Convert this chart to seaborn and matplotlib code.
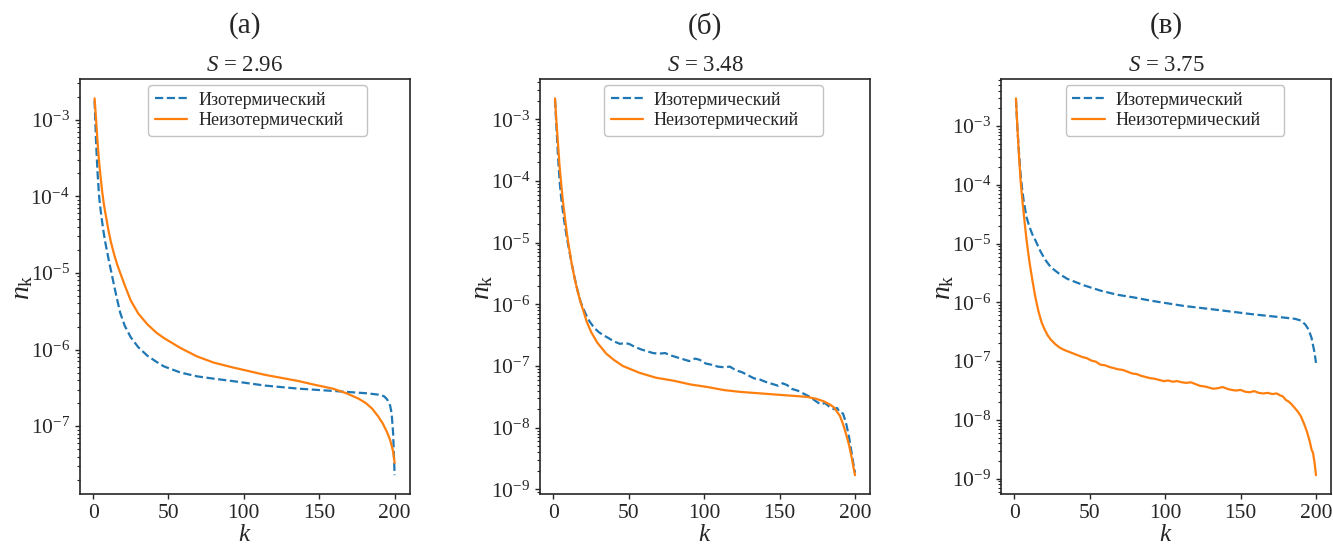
import matplotlib
matplotlib.use("Agg")
import math
import numpy as np
import pandas as pd
import matplotlib.pyplot as plt
import matplotlib.ticker as mticker
import seaborn as sns

# ---- data: cluster size k and log10 of cluster concentration n_k ----
labels_series = ["Изотермический", "Неизотермический"]
panel_tags = ["(а)", "(б)", "(в)"]
supersat = ["2.96", "3.48", "3.75"]

# panel (а), S = 2.96
k_iso_a = [1, 2, 3, 4, 5, 6, 7, 8, 9, 10, 11, 12, 14, 16, 18, 21, 25, 30, 36, 42,
           47, 58, 69, 80, 92, 114, 136, 159, 181, 190, 193, 195, 197, 198, 199, 200]
lg_iso_a = [-2.75, -3.30, -3.70, -4.00, -4.18, -4.33, -4.47, -4.59, -4.69, -4.79,
            -4.89, -4.98, -5.17, -5.35, -5.52, -5.69, -5.84, -5.97, -6.08, -6.16,
            -6.22, -6.30, -6.35, -6.38, -6.41, -6.47, -6.51, -6.54, -6.57, -6.59,
            -6.61, -6.65, -6.73, -6.83, -7.09, -7.64]
k_non_a = [1, 2, 3, 4, 5, 6, 7, 8, 9, 10, 11, 12, 14, 16, 18, 21, 25, 30, 36, 42,
           47, 58, 69, 80, 92, 103, 114, 125, 136, 147, 159, 168, 176, 181, 185,
           189, 192, 195, 197, 199, 200]
lg_non_a = [-2.72, -3.00, -3.30, -3.55, -3.75, -3.93, -4.08, -4.20, -4.31, -4.42,
            -4.52, -4.61, -4.76, -4.89, -5.00, -5.16, -5.36, -5.53, -5.67, -5.78,
            -5.85, -5.98, -6.09, -6.17, -6.23, -6.28, -6.33, -6.37, -6.41, -6.46,
            -6.51, -6.57, -6.64, -6.70, -6.77, -6.87, -6.96, -7.08, -7.18, -7.33,
            -7.48]

# panel (б), S = 3.48
k_iso_b = [1, 2, 3, 4, 5, 6, 7, 8, 9, 10, 12, 14, 16, 18, 20, 22, 24, 27, 30, 33,
           36, 40, 44, 47, 50, 54, 58, 62, 66, 70, 74, 78, 82, 86, 90, 94, 97, 101,
           105, 109, 113, 117, 121, 125, 129, 133, 137, 141, 145, 149, 152, 155,
           158, 162, 166, 170, 174, 177, 180, 183, 186, 188, 190, 192, 194, 196,
           198, 199, 200]
lg_iso_b = [-2.68, -3.15, -3.60, -3.98, -4.25, -4.45, -4.63, -4.79, -4.94, -5.07,
            -5.33, -5.57, -5.78, -5.96, -6.08, -6.19, -6.28, -6.38, -6.45, -6.50,
            -6.54, -6.60, -6.64, -6.63, -6.64, -6.69, -6.73, -6.76, -6.79, -6.80,
            -6.79, -6.83, -6.86, -6.89, -6.92, -6.88, -6.90, -6.96, -6.98, -7.01,
            -7.02, -7.01, -7.07, -7.10, -7.15, -7.20, -7.22, -7.26, -7.29, -7.32,
            -7.28, -7.31, -7.37, -7.40, -7.45, -7.50, -7.57, -7.62, -7.60, -7.66,
            -7.70, -7.68, -7.75, -7.77, -7.92, -8.15, -8.45, -8.60, -8.73]
k_non_b = [1, 2, 3, 4, 5, 6, 7, 8, 9, 10, 12, 14, 16, 18, 20, 22, 25, 29, 35, 40,
           46, 57, 68, 80, 91, 102, 113, 124, 135, 146, 157, 168, 174, 179, 183,
           186, 190, 192, 194, 196, 198, 199, 200]
lg_non_b = [-2.66, -3.05, -3.40, -3.75, -4.02, -4.27, -4.48, -4.68, -4.87, -5.03,
            -5.33, -5.58, -5.79, -5.97, -6.12, -6.28, -6.45, -6.62, -6.80, -6.90,
            -7.00, -7.11, -7.19, -7.24, -7.30, -7.34, -7.39, -7.42, -7.44, -7.46,
            -7.48, -7.50, -7.53, -7.57, -7.62, -7.67, -7.81, -7.94, -8.10, -8.28,
            -8.51, -8.65, -8.77]

# panel (в), S = 3.75
k_iso_c = [1, 2, 3, 4, 5, 6, 8, 10, 12, 14, 17, 20, 24, 30, 35, 46, 57, 68, 80, 90,
           112, 135, 157, 179, 186, 190, 193, 195, 197, 199, 200]
lg_iso_c = [-2.55, -3.05, -3.45, -3.80, -4.05, -4.25, -4.55, -4.72, -4.85, -4.95,
            -5.12, -5.26, -5.40, -5.52, -5.60, -5.71, -5.80, -5.87, -5.92, -5.97,
            -6.06, -6.13, -6.20, -6.26, -6.28, -6.31, -6.38, -6.46, -6.60, -6.85,
            -7.03]
k_non_c = [1, 2, 3, 4, 5, 6, 7, 8, 9, 10, 12, 14, 16, 18, 20, 22, 24, 27, 30, 33,
           36, 39, 42, 45, 48, 51, 54, 57, 60, 63, 66, 69, 72, 75, 78, 81, 84, 87,
           90, 93, 96, 99, 102, 105, 108, 111, 114, 117, 120, 123, 126, 129, 132,
           135, 138, 141, 144, 147, 150, 153, 156, 159, 162, 165, 168, 171, 174,
           176, 178, 180, 182, 184, 186, 188, 190, 192, 194, 196, 197, 198, 199, 200]
lg_non_c = [-2.53, -3.05, -3.50, -3.90, -4.20, -4.45, -4.70, -4.93, -5.13, -5.32,
            -5.64, -5.93, -6.16, -6.34, -6.46, -6.56, -6.63, -6.71, -6.77, -6.81,
            -6.84, -6.87, -6.90, -6.93, -6.95, -6.99, -7.01, -7.06, -7.07, -7.10,
            -7.12, -7.14, -7.15, -7.18, -7.21, -7.22, -7.25, -7.27, -7.29, -7.30,
            -7.32, -7.34, -7.33, -7.35, -7.34, -7.36, -7.37, -7.36, -7.39, -7.42,
            -7.43, -7.45, -7.47, -7.46, -7.44, -7.47, -7.49, -7.50, -7.49, -7.52,
            -7.53, -7.51, -7.54, -7.55, -7.54, -7.56, -7.55, -7.58, -7.60, -7.66,
            -7.69, -7.74, -7.80, -7.86, -7.94, -8.06, -8.20, -8.38, -8.50, -8.56,
            -8.72, -8.94]

panels = [
    (k_iso_a, lg_iso_a, k_non_a, lg_non_a),
    (k_iso_b, lg_iso_b, k_non_b, lg_non_b),
    (k_iso_c, lg_iso_c, k_non_c, lg_non_c),
]

# ---- style ----
sns.set_style("ticks")
plt.rcParams.update({
    "font.family": ["Liberation Serif", "DejaVu Serif"],
    "mathtext.fontset": "custom",
    "mathtext.rm": "Liberation Serif",
    "mathtext.it": "Liberation Serif:italic",
    "mathtext.bf": "Liberation Serif:bold",
    "axes.linewidth": 1.2,
    "axes.edgecolor": "0.15",
    "xtick.major.width": 1.0,
    "ytick.major.width": 1.0,
    "ytick.minor.width": 0.8,
})

c_iso = "#1f77b4"
c_non = "#ff7f0e"

fig = plt.figure(figsize=(13.33, 5.46), dpi=100)
lefts = [0.0597, 0.4051, 0.7509]
bottom, width, height = 0.0952, 0.2476, 0.7592
legend_x0 = [0.208, 0.194, 0.196]
legend_w = 0.662

for i, (k_i, lg_i, k_n, lg_n) in enumerate(panels):
    ax = fig.add_axes([lefts[i], bottom, width, height])
    iso = pd.DataFrame({"k": k_i, "n": 10.0 ** np.asarray(lg_i)})
    non = pd.DataFrame({"k": k_n, "n": 10.0 ** np.asarray(lg_n)})
    sns.lineplot(data=iso, x="k", y="n", color=c_iso, linestyle="--",
                 linewidth=1.6, label=labels_series[0], ax=ax, errorbar=None)
    sns.lineplot(data=non, x="k", y="n", color=c_non, linestyle="-",
                 linewidth=1.6, label=labels_series[1], ax=ax, errorbar=None)
    ax.set_yscale("log")

    # decade ticks restricted to the visible range
    y0, y1 = ax.get_ylim()
    e_lo, e_hi = math.ceil(math.log10(y0)), math.floor(math.log10(y1))
    major = [10.0 ** e for e in range(e_lo, e_hi + 1)]
    minor = [m * 10.0 ** e for e in range(e_lo - 1, e_hi + 1)
             for m in range(2, 10) if y0 <= m * 10.0 ** e <= y1]
    ax.yaxis.set_major_locator(mticker.FixedLocator(major))
    ax.yaxis.set_minor_locator(mticker.FixedLocator(minor))
    ax.yaxis.set_major_formatter(mticker.LogFormatterSciNotation())
    ax.yaxis.set_minor_formatter(mticker.NullFormatter())
    ax.set_ylim(y0, y1)

    ax.set_xticks([0, 50, 100, 150, 200])
    ax.tick_params(axis="both", which="major", labelsize=15.5)
    ax.set_xlabel(r"$k$", fontsize=18, labelpad=1)
    ax.set_ylabel(r"$n_\mathrm{k}$", fontsize=20, labelpad=-3)
    ax.set_title(r"$S$ = " + supersat[i], fontsize=16.5, pad=6)
    ax.text(0.5, 1.129, panel_tags[i], transform=ax.transAxes,
            ha="center", va="center", fontsize=21)
    ax.legend(loc="upper left",
              bbox_to_anchor=(legend_x0[i], 0.0, legend_w, 0.986),
              mode="expand", borderaxespad=0.0,
              fontsize=13, frameon=True, framealpha=0.8, edgecolor="0.7",
              borderpad=0.36, labelspacing=0.2, handlelength=1.8,
              handletextpad=0.6)
    for s in ax.spines.values():
        s.set_visible(True)

fig.savefig("out.png", dpi=100)
